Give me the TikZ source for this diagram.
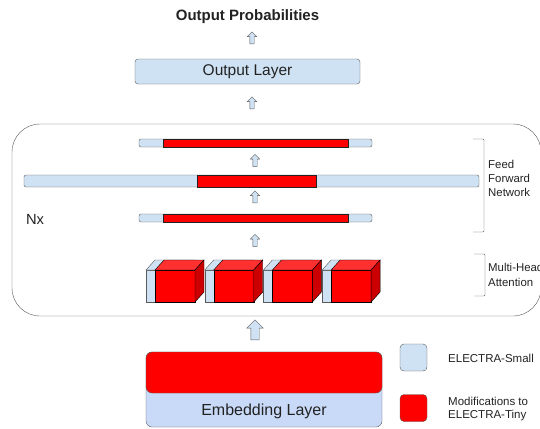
\documentclass[tikz,border=0pt]{standalone}
\usepackage{fontspec}
\setmainfont{Liberation Sans}
\usetikzlibrary{shapes.arrows}
\definecolor{smallblue}{HTML}{CFE2F3}
\definecolor{embblue}{HTML}{C9DAF8}
\definecolor{tinyred}{HTML}{FF0000}
\definecolor{topred}{HTML}{FF3030}
\definecolor{sidered}{HTML}{CC0000}
\definecolor{edgegray}{HTML}{5A5A5A}
\definecolor{txtgray}{HTML}{222222}
\tikzset{
  upar/.style={ single arrow, draw=edgegray, fill=smallblue, shape border rotate=90, inner sep=2pt, single arrow head extend=2.5pt, minimum height=12pt }
}
\tikzset{
  bigupar/.style={ upar, inner sep=4pt, single arrow head extend=4pt, minimum height=20pt }
}
\tikzset{
  layerbox/.style={ draw=edgegray, fill=smallblue, rounded corners=3pt, inner sep=0pt }
}
\tikzset{
  barb/.style={ draw=edgegray, fill=smallblue, rounded corners=2pt, inner sep=0pt }
}
\tikzset{
  barr/.style={ draw=txtgray, fill=tinyred, inner sep=0pt }
}
\tikzset{
  legbox/.style={ draw=edgegray, rounded corners=4pt, minimum size=27pt, inner sep=0pt }
}
\tikzset{
  lbl/.style={ text=txtgray, inner sep=0pt }
}

\begin{document}
\begin{tikzpicture}[x=1pt, y=-1pt]
      \useasboundingbox (0, 0) rectangle (540, 428);
      \node[lbl, font=\fontsize{15}{18}\selectfont\bfseries] (prob) at (247.5, 17) {Output Probabilities};
      \node[upar] (a1) at (252, 39) {};
      \node[layerbox, minimum width=225pt, minimum height=25pt, font=\fontsize{15.5}{18}\selectfont, text=txtgray] (out) at (247.5, 71.5) {Output Layer};
      \node[upar] (a2) at (252, 104) {};
      \node[draw=edgegray, rounded corners=28pt, minimum width=529pt, minimum height=192pt] (enc) at (276.5, 220) {};
      % feed forward bars
      \node[barb, minimum width=233pt, minimum height=8pt] (ffa) at (255.5, 143) {};
      \node[barr, minimum width=185pt, minimum height=8pt] (ffar) at (ffa.center) {};
      \node[upar] (a3) at (255, 161.5) {};
      \node[barb, minimum width=455pt, minimum height=12pt] (ffb) at (251.5, 181) {};
      \node[barr, minimum width=119pt, minimum height=12pt] (ffbr) at (256.5, 181) {};
      \node[upar] (a4) at (255, 198) {};
      \node[barb, minimum width=233pt, minimum height=8pt] (ffc) at (255.5, 218) {};
      \node[barr, minimum width=185pt, minimum height=8pt] (ffcr) at (ffc.center) {};
      \node[upar] (a5) at (255, 241.5) {};
      % attention heads
      \foreach \x in {155, 213.7, 272.4, 331.1} {
        \filldraw[draw=edgegray, fill=smallblue] (\x-9, 270) rectangle (\x+31, 302);
        \filldraw[draw=edgegray, fill=smallblue] (\x-9, 270) -- (\x, 260) -- (\x+40, 260) -- (\x+31, 270) -- cycle;
        \filldraw[draw=black, fill=tinyred] (\x, 270) rectangle (\x+40, 302);
        \filldraw[draw=black, fill=topred] (\x, 270) -- (\x+9, 260) -- (\x+49, 260) -- (\x+40, 270) -- cycle;
        \filldraw[draw=black, fill=sidered] (\x+40, 270) -- (\x+49, 260) -- (\x+49, 292) -- (\x+40, 302) -- cycle;
      }
      \node[lbl, font=\fontsize{14.7}{17}\selectfont] (nx) at (35, 219) {Nx};
      \draw[edgegray, rounded corners=1pt] (473, 139) -- (484, 139) -- (484, 232) -- (473, 232);
      \node[lbl, anchor=west, align=left, font=\fontsize{11.4}{14}\selectfont] (ffn) at (488, 178) {Feed\\Forward\\Network};
      \draw[edgegray, rounded corners=1pt] (474, 254) -- (485, 254) -- (485, 296) -- (474, 296);
      \node[lbl, anchor=west, align=left, font=\fontsize{11.4}{15}\selectfont] (mha) at (488, 274.5) {Multi-Head\\Attention};
      \node[bigupar] (a6) at (255, 332) {};
      % embedding
      \node[draw=edgegray, fill=embblue, rounded corners=6pt, minimum width=236pt, minimum height=75pt] (emb) at (264, 389.5) {};
      \node[draw=edgegray, fill=tinyred, rounded corners=6pt, minimum width=236pt, minimum height=41pt] (embr) at (264, 372.5) {};
      \node[lbl, font=\fontsize{16}{19}\selectfont] (embtxt) at (264, 411) {Embedding Layer};
      % legend
      \node[legbox, fill=smallblue] (legs) at (413.5, 357.5) {};
      \node[lbl, anchor=west, font=\fontsize{11.5}{13}\selectfont] (legstxt) at (448, 358) {ELECTRA-Small};
      \node[legbox, fill=tinyred] (legt) at (413.5, 408) {};
      \node[lbl, anchor=west, align=left, font=\fontsize{11.5}{13}\selectfont] (legttxt) at (448, 409) {Modifications to\\ELECTRA-Tiny};
    \end{tikzpicture}
\end{document}
